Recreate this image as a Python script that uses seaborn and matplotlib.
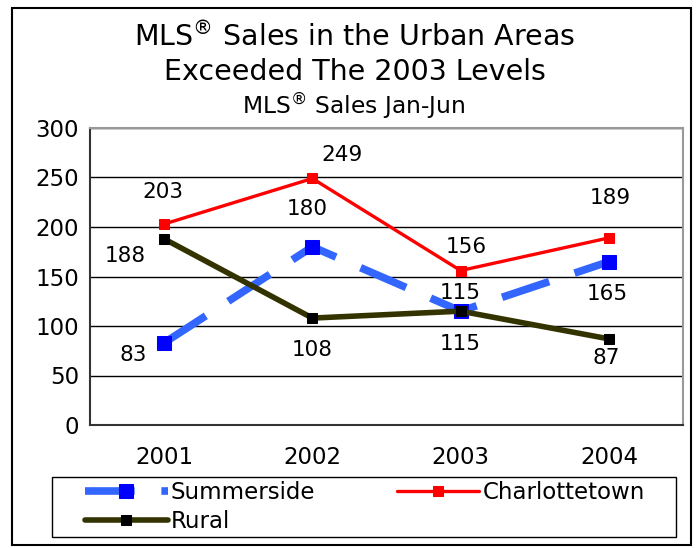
import matplotlib
matplotlib.use('Agg')
import matplotlib.pyplot as plt
import seaborn as sns
import pandas as pd
from matplotlib.patches import Rectangle

# data
years = ['2001', '2002', '2003', '2004']
summerside = [83, 180, 115, 165]
charlottetown = [203, 249, 156, 189]
rural = [188, 108, 115, 87]

df = pd.DataFrame({
    'Year': years * 3,
    'Sales': summerside + charlottetown + rural,
    'Area': ['Summerside'] * 4 + ['Charlottetown'] * 4 + ['Rural'] * 4,
})

sns.set_style('white')
plt.rcParams['font.family'] = ['DejaVu Sans']
plt.rcParams['text.color'] = 'black'
plt.rcParams['xtick.color'] = 'black'
plt.rcParams['ytick.color'] = 'black'

fig = plt.figure(figsize=(6.96, 5.48), dpi=100)
ax = fig.add_axes([90 / 696, 1 - 425 / 548, (683 - 90) / 696, (425 - 128) / 548])

styles = {
    'Summerside': dict(color='#3366FF', lw=5.5, marker='s', ms=10, mfc='#0000FF', mec='#0000FF', dashes=(6.5, 3.5)),
    'Charlottetown': dict(color='#FF0000', lw=2.4, marker='s', ms=7, mfc='#FF0000', mec='#FF0000'),
    'Rural': dict(color='#333300', lw=4, marker='s', ms=7, mfc='black', mec='black'),
}
for area, st in styles.items():
    st = dict(st)
    dashes = st.pop('dashes', None)
    sub = df[df['Area'] == area]
    sns.lineplot(data=sub, x='Year', y='Sales', ax=ax, label=area, sort=False,
                 color=st['color'], linewidth=st['lw'], marker=st['marker'],
                 markersize=st['ms'], markerfacecolor=st['mfc'],
                 markeredgecolor=st['mec'], legend=False)
    if dashes:
        ax.lines[-1].set_dashes(dashes)

# value labels (offsets in points)
offsets = {
    'Summerside': [(-22, -9), (-4, 27), (0, 13), (-1, -23)],
    'Charlottetown': [(-1, 23), (21, 17), (4, 17), (1, 29)],
    'Rural': [(-28, -12), (0, -23), (0, -24), (-2, -14)],
}
series = {'Summerside': summerside, 'Charlottetown': charlottetown, 'Rural': rural}
for area, vals in series.items():
    for i, v in enumerate(vals):
        ax.annotate(str(v), (i, v), xytext=offsets[area][i], textcoords='offset points',
                    ha='center', va='center', fontsize=15.5)

ax.set_xlim(-0.5, 3.5)
ax.set_ylim(0, 300)
ax.set_yticks(range(0, 301, 50))
ax.set_xticks([0, 1, 2, 3])
ax.set_xticklabels(years)
ax.set_xticks([-0.5, 0.5, 1.5, 2.5, 3.5], minor=True)
ax.tick_params(axis='x', which='major', length=0, labelsize=16.5, pad=15)
ax.tick_params(axis='x', which='minor', length=5, direction='out', color='#333333', width=1.2)
ax.tick_params(axis='y', length=5, direction='out', labelsize=16.5, pad=3, color='#333333', width=1.2)
ax.grid(axis='y', color='black', lw=1)
ax.set_axisbelow(True)
ax.set_xlabel('')
ax.set_ylabel('')
for s in ['top', 'right']:
    ax.spines[s].set_color('#999999')
    ax.spines[s].set_linewidth(1.5)
for s in ['left', 'bottom']:
    ax.spines[s].set_color('#333333')
    ax.spines[s].set_linewidth(1.5)

# titles
fig.text(0.51, 1 - 37 / 548, r'MLS$^{\circledR}$ Sales in the Urban Areas', ha='center', va='center', fontsize=20.5)
fig.text(0.51, 1 - 72 / 548, 'Exceeded The 2003 Levels', ha='center', va='center', fontsize=20.5)
fig.text(0.508, 1 - 106 / 548, r'MLS$^{\circledR}$ Sales Jan-Jun', ha='center', va='center', fontsize=16.8)

# legend: row 1 Summerside / Charlottetown, row 2 Rural
handles, labels = ax.get_legend_handles_labels()
hmap = dict(zip(labels, handles))
order = ['Summerside', 'Rural', 'Charlottetown']
leg = fig.legend([hmap[k] for k in order], order, loc='upper left', ncol=2,
                 bbox_to_anchor=(85 / 696, 1 - 481 / 548),
                 fontsize=16.5, frameon=False, handlelength=3.6, handletextpad=0.15,
                 borderaxespad=0, borderpad=0, labelspacing=0.25, columnspacing=3.55)

# legend box
fig.patches.append(Rectangle((52 / 696, 1 - 537 / 548), (676 - 52) / 696, (537 - 477) / 548,
                             transform=fig.transFigure, fill=False, edgecolor='black', lw=1))

# outer border
fig.patches.append(Rectangle((12 / 696, 3 / 548), (691 - 12) / 696, (545 - 8) / 548,
                             transform=fig.transFigure, fill=False, edgecolor='black', lw=1.5))

fig.savefig('out.png', dpi=100)
